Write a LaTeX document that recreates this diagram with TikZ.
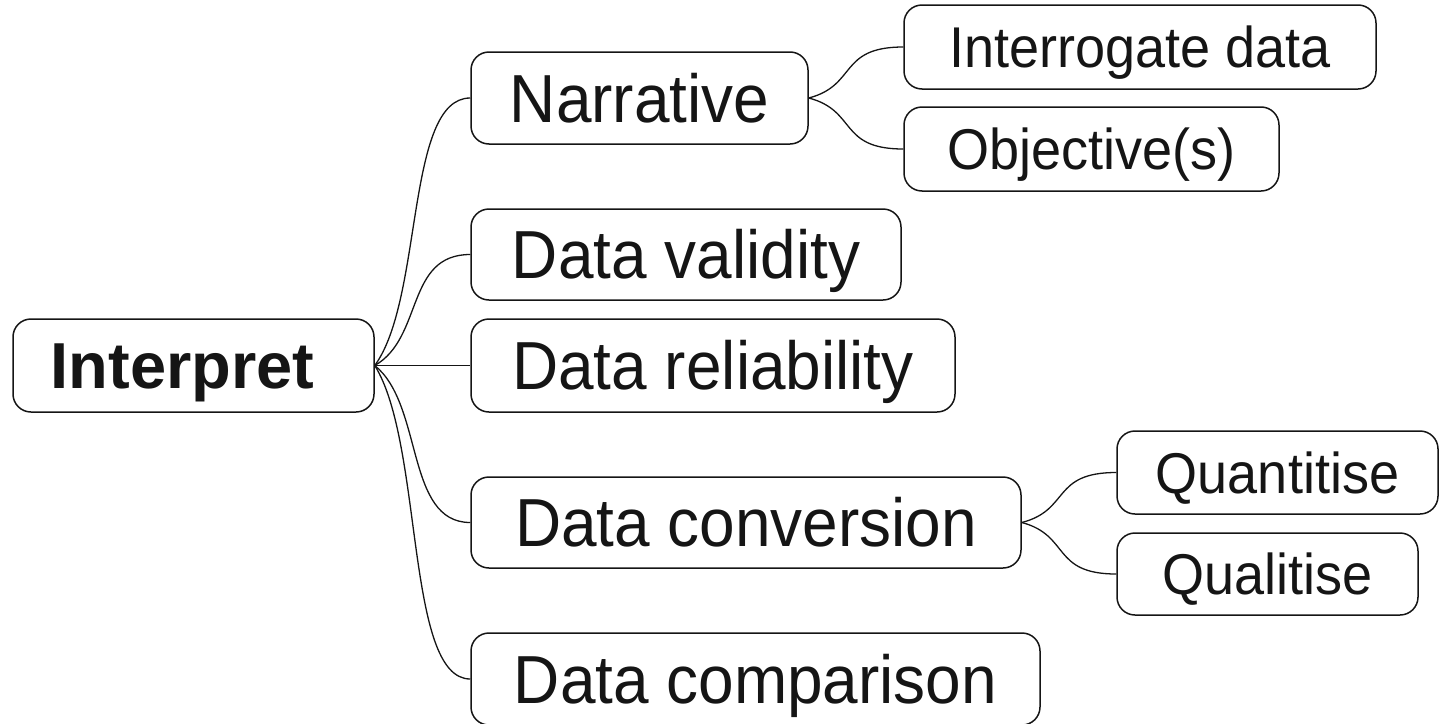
\documentclass[tikz,border=0pt]{standalone}
\usepackage{fontspec}
\setmainfont{Liberation Sans}
\newfontfamily\tallfont[FakeStretch=0.94]{Liberation Sans}
\usetikzlibrary{calc}
\definecolor{ink}{HTML}{151515}
\tikzset{
  box/.style={draw=ink, line width=1.5pt, rounded corners=18pt, text=ink, inner sep=0pt, text depth=0pt},
  big/.style={box, font=\tallfont\fontsize{68}{74}\selectfont, text height=48.7pt},
  small/.style={box, font=\tallfont\fontsize{57.5}{63}\selectfont, text height=41.2pt},
  link/.style={draw=ink, line width=1.3pt},
}
\newcommand\mmconn[2]{\draw[link] (#1) .. controls ($(#1)!0.25!(#2)+(25pt,0)$) and ($(#2)+(-65pt,0)$) .. (#2);}
\begin{document}
\begin{tikzpicture}[x=1pt,y=1pt]
\useasboundingbox (0,0) rectangle (1439,-723);
\node[box, font=\fontsize{65}{70}\selectfont\bfseries, text height=46.5pt, minimum width=361pt, minimum height=93pt] (interp) at (193.5,-365.5) {Interpret\hspace*{22pt}};
\node[big, minimum width=337pt, minimum height=92pt] (narr) at (639.5,-98) {Narrative};
\node[big, minimum width=430pt, minimum height=91pt] (valid) at (686,-254.5) {Data validity};
\node[big, minimum width=484pt, minimum height=93pt] (reli) at (713,-365.5) {Data reliability};
\node[big, minimum width=550pt, minimum height=91pt] (conv) at (746,-522.5) {Data conversion};
\node[big, minimum width=569pt, minimum height=92pt] (comp) at (755.5,-679) {Data comparison};
\node[small, minimum width=472pt, minimum height=84pt] (interr) at (1140,-47) {Interrogate data};
\node[small, minimum width=375pt, minimum height=84pt] (obj) at (1091.5,-149) {Objective(s)};
\node[small, minimum width=321pt, minimum height=83pt] (quant) at (1277.5,-472.5) {Quantitise};
\node[small, minimum width=301pt, minimum height=82pt] (qual) at (1267.5,-574) {Qualitise};
\mmconn{interp.east}{narr.west}
\mmconn{interp.east}{valid.west}
\mmconn{interp.east}{reli.west}
\mmconn{interp.east}{conv.west}
\mmconn{interp.east}{comp.west}
\mmconn{narr.east}{interr.west}
\mmconn{narr.east}{obj.west}
\mmconn{conv.east}{quant.west}
\mmconn{conv.east}{qual.west}
\end{tikzpicture}
\end{document}
